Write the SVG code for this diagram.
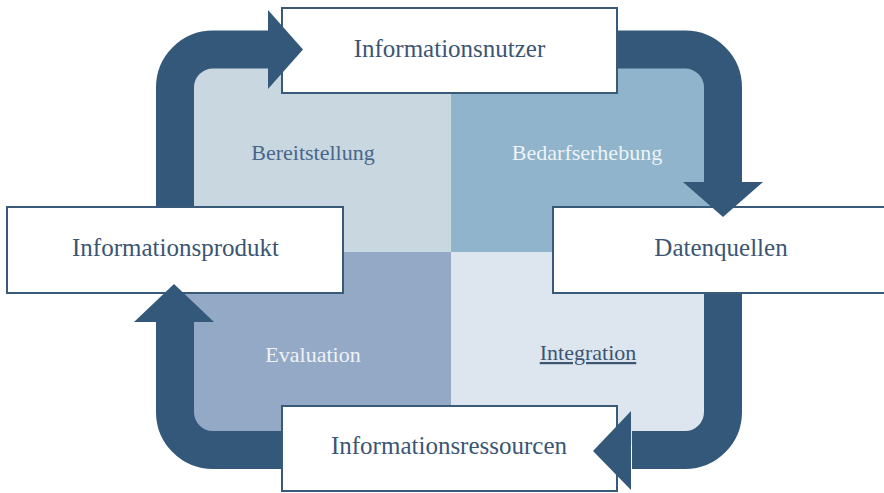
<svg xmlns="http://www.w3.org/2000/svg" width="884" height="493" viewBox="0 0 884 493">
<style>
.box{fill:#ffffff;stroke:#3a5a7a;stroke-width:2}
.lbl{font-family:"Liberation Serif","Times New Roman",serif;font-size:25px;fill:#3b5573;text-anchor:middle}
.q{font-family:"Liberation Serif","Times New Roman",serif;font-size:22px;text-anchor:middle}
.shaft{fill:none;stroke:#34587a;stroke-width:38}
.head{fill:#34587a}
</style>
<rect width="884" height="493" fill="#ffffff"/>
<g id="q-bereitstellung">
<rect x="180" y="55" width="271" height="197" fill="#c9d7e1"/>
<text class="q" x="313" y="160" fill="#48668a">Bereitstellung</text>
</g>
<g id="q-bedarfserhebung">
<rect x="451" y="55" width="268" height="197" fill="#8fb4cb"/>
<text class="q" x="587" y="160" fill="#eef3f7">Bedarfserhebung</text>
</g>
<g id="q-evaluation">
<rect x="180" y="252" width="271" height="193" fill="#94a9c5"/>
<text class="q" x="313" y="362" fill="#eef2f7">Evaluation</text>
</g>
<g id="q-integration">
<rect x="451" y="252" width="268" height="193" fill="#dde6ee"/>
<text class="q" x="588" y="360" fill="#3b5573" text-decoration="underline">Integration</text>
</g>
<g id="informationsnutzer">
<rect class="box" x="282" y="8" width="335" height="85"/>
<text class="lbl" x="449.5" y="57">Informationsnutzer</text>
</g>
<g id="datenquellen">
<rect class="box" x="553" y="207" width="336" height="86"/>
<text class="lbl" x="721" y="256">Datenquellen</text>
</g>
<g id="informationsressourcen">
<rect class="box" x="282" y="406" width="335" height="85"/>
<text class="lbl" x="449" y="454">Informationsressourcen</text>
</g>
<g id="informationsprodukt">
<rect class="box" x="7" y="207" width="336" height="86"/>
<text class="lbl" x="175.5" y="256">Informationsprodukt</text>
</g>
<g id="connectors">
<path class="shaft" d="M175,206 V87.5 A38,38 0 0 1 213,49.5 H270"/>
<polygon class="head" points="268,10 303,49.5 268,89"/>
<path class="shaft" d="M618,49.5 H685 A38,38 0 0 1 723,87.5 V184"/>
<polygon class="head" points="683,182 763,182 723,217"/>
<path class="shaft" d="M723,294 V412 A38,38 0 0 1 685,450 H632"/>
<polygon class="head" points="631,411 631,490 593,451"/>
<path class="shaft" d="M281,450 H213 A38,38 0 0 1 175,412 V320"/>
<polygon class="head" points="134,322 214,322 174,284"/>
</g>
</svg>
